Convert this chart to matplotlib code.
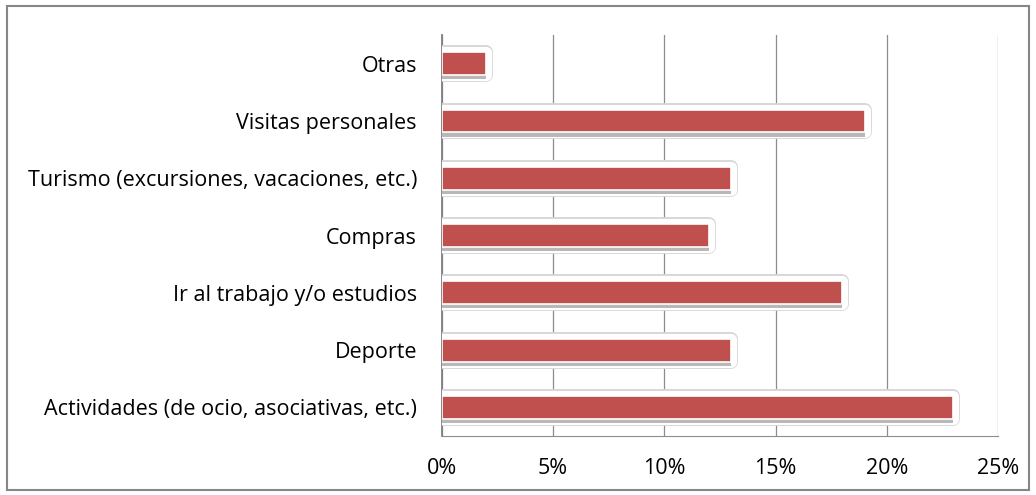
import matplotlib.pyplot as plt
import matplotlib.patheffects as pe
from matplotlib.patches import Rectangle
from matplotlib.ticker import FuncFormatter

plt.rcParams['font.family'] = ['Open Sans', 'DejaVu Sans']

categorias = ['Actividades (de ocio, asociativas, etc.)', 'Deporte',
              'Ir al trabajo y/o estudios', 'Compras',
              'Turismo (excursiones, vacaciones, etc.)',
              'Visitas personales', 'Otras']
porcentajes = [23, 13, 18, 12, 13, 19, 2]
ticks = [0, 5, 10, 15, 20, 25]

fig = plt.figure(figsize=(10.36, 4.95), dpi=100)
ax = fig.add_axes([0.4266, 0.1192, 0.9633 - 0.4266, 0.929 - 0.1192])

bars = ax.barh(categorias, porcentajes, height=0.4, color='#C0504D',
               edgecolor='white', linewidth=1.2, zorder=3)
for b in bars:
    b.set_path_effects([
        pe.withStroke(linewidth=10, foreground='#d6d6d6', joinstyle='round'),
        pe.withStroke(linewidth=8, foreground='white', joinstyle='round'),
        pe.SimplePatchShadow(offset=(0, -3), shadow_rgbFace='#9a9a9a', alpha=0.7),
        pe.Normal(),
    ])

ax.set_xlim(0, 25)
ax.set_ylim(-0.5, 6.5)
ax.set_xticks(ticks)
ax.xaxis.set_major_formatter(FuncFormatter(lambda v, p: '%d%%' % v))
ax.grid(axis='x', color='#8c8c8c', linewidth=0.9, zorder=0)
ax.tick_params(axis='x', length=0, pad=16, labelsize=15.5)
ax.tick_params(axis='y', length=0, pad=18, labelsize=15.5)

for s in ['top', 'right']:
    ax.spines[s].set_visible(False)
ax.spines['left'].set_color('#808080')
ax.spines['bottom'].set_color('#8c8c8c')
ax.spines['left'].set_linewidth(1.3)

fig.patches.append(Rectangle((7 / 1036, 5 / 495), 1022 / 1036, 484 / 495,
                             transform=fig.transFigure, fill=False,
                             edgecolor='#868686', linewidth=1.5))

fig.savefig('out.png', dpi=100)
